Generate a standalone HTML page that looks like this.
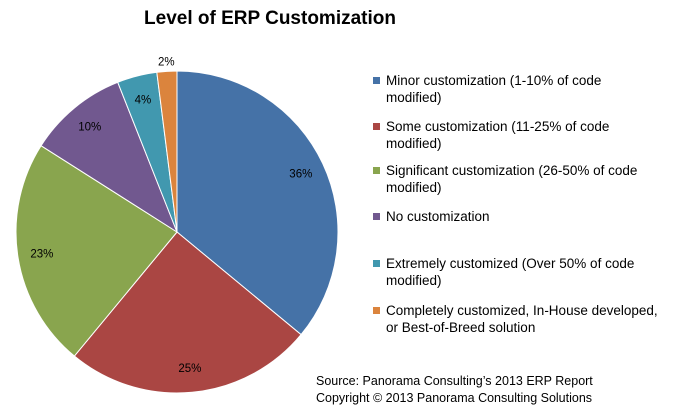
<!DOCTYPE html>
<html><head><meta charset="utf-8"><style>
body{margin:0;background:#fff;font-family:"Liberation Sans",sans-serif;}
svg text{font-family:"Liberation Sans",sans-serif;}
</style></head><body>
<svg width="683" height="412">
<text x="270" y="24" text-anchor="middle" font-size="19" font-weight="bold" fill="#000">Level of ERP Customization</text>
<g id="pie"></g>
<g id="legend"></g>
<text x="316" y="385" font-size="12.5" fill="#000">Source: Panorama Consulting’s 2013 ERP Report</text>
<text x="316" y="402" font-size="12.5" fill="#000">Copyright © 2013  Panorama Consulting Solutions</text>
</svg>
<script>
const categories=["Minor customization (1-10% of code|modified)","Some customization (11-25% of code|modified)","Significant customization (26-50% of code|modified)","No customization","Extremely customized (Over 50% of code|modified)","Completely customized, In-House developed,|or Best-of-Breed solution"];
const values=[36,25,23,10,4,2];
const colors=["#4572A7","#AA4643","#89A54E","#71588F","#4198AF","#DB843D"];
const NS="http://www.w3.org/2000/svg";
const cx=177,cy=232,r=161;
const pie=document.getElementById('pie');
const total=values.reduce((a,b)=>a+b,0);
let a0=0;
values.forEach((v,i)=>{
  const a1=a0+v/total*2*Math.PI;
  const p=a=>[cx+r*Math.sin(a),cy-r*Math.cos(a)];
  const s=p(a0),e=p(a1);
  const path=document.createElementNS(NS,'path');
  path.setAttribute('d',`M${cx},${cy}L${s[0]},${s[1]}A${r},${r} 0 ${a1-a0>Math.PI?1:0} 1 ${e[0]},${e[1]}Z`);
  path.setAttribute('fill',colors[i]);path.setAttribute('stroke','#fff');path.setAttribute('stroke-width','1');
  
  
  pie.appendChild(path);
  const m=(a0+a1)/2;const lr=v<3?r+10:r*0.85;
  const t=document.createElementNS(NS,'text');
  t.setAttribute('x',cx+lr*Math.sin(m));t.setAttribute('y',cy-lr*Math.cos(m)+4);
  t.setAttribute('text-anchor','middle');t.setAttribute('font-size','11.5');t.setAttribute('fill','#000');
  t.textContent=v+'%';
  
  
  pie.appendChild(t);
  a0=a1;
});
const lg=document.getElementById('legend');
const ys=[85,131,175,221,268,315];
categories.forEach((c,i)=>{
  const rc=document.createElementNS(NS,'rect');
  rc.setAttribute('x',373);rc.setAttribute('y',ys[i]-8);rc.setAttribute('width',7);rc.setAttribute('height',7);rc.setAttribute('fill',colors[i]);
  
  
  lg.appendChild(rc);
  c.split('|').forEach((ln,j)=>{
    const t=document.createElementNS(NS,'text');
    t.setAttribute('x',386);t.setAttribute('y',ys[i]+j*17);t.setAttribute('font-size','13.5');t.setAttribute('fill','#000');
    t.textContent=ln;
    
    
    lg.appendChild(t);
  });
});
</script>
</body></html>
